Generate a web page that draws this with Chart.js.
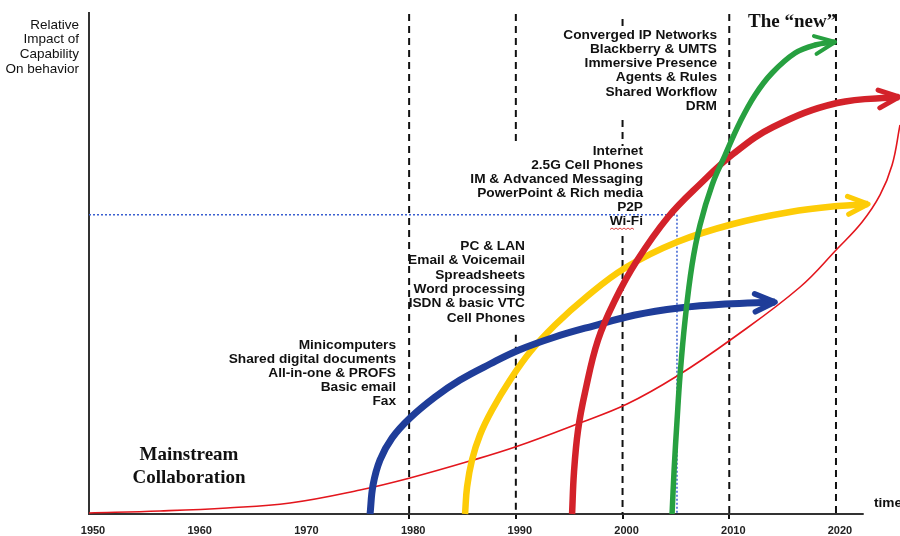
<!DOCTYPE html>
<html>
  <head>
    <meta charset="utf-8">
    <title>Collaboration waves</title>
    <script src="https://cdn.jsdelivr.net/npm/chart.js@4.4.1/dist/chart.umd.min.js"></script>
    <style>
      body { margin: 0; background: #fff; }
      #wrap { width: 900px; height: 536px; }
    </style>
  </head>
  <body>
    <div id="wrap"><canvas id="waves" width="900" height="536"></canvas></div>
    <script>
      // x = year, y = relative impact (0..100, top of plot = 100)
      const yearTicks = [1950, 1960, 1970, 1980, 1990, 2000, 2010, 2020];

      const mainstreamYears = [1950, 1956.65, 1962.93, 1968.84, 1975.4, 1980.08, 1985.71, 1990.21, 1995.74, 2000.42, 2005.11, 2010.36, 2016.64, 2020.1, 2022.45, 2024.13, 2025.26, 2026];
      const mainstreamImpact = [0.2, 0.6, 1.2, 2.19, 4.78, 7.17, 10.56, 13.55, 17.93, 21.91, 27.49, 35.06, 45.22, 52.79, 58.17, 63.55, 69.52, 77.49];

      const blueYears = [1976.34, 1976.62, 1977.27, 1978.4, 1980.08, 1982.43, 1984.77, 1987.58, 1990.3, 1993.67, 1997.24, 2001.17, 2005.3, 2009.61, 2014.29];
      const blueImpact = [0, 5.78, 10.76, 15.14, 19.12, 23.31, 26.69, 29.88, 32.67, 35.26, 37.45, 39.64, 41.04, 41.83, 42.23];

      const yellowYears = [1985.24, 1985.43, 1985.89, 1986.64, 1987.77, 1989.46, 1991.33, 1993.67, 1996.49, 2000.23, 2005.11, 2010.36, 2015.7, 2020.2, 2023.01];
      const yellowImpact = [0, 5.38, 10.76, 15.74, 20.72, 26.69, 32.27, 37.65, 43.03, 49.0, 54.18, 57.77, 60.16, 61.35, 61.75];

      const redYears = [1995.27, 1995.45, 1995.83, 1996.49, 1997.7, 1999.3, 2001.27, 2004.27, 2007.27, 2010.36, 2014.11, 2020.1, 2025.9];
      const redImpact = [0, 8.37, 16.73, 24.3, 34.66, 42.63, 50.2, 59.16, 65.74, 71.71, 77.09, 81.87, 83.07];

      const greenYears = [2004.64, 2004.83, 2005.11, 2005.39, 2005.86, 2006.51, 2007.26, 2008.39, 2009.61, 2011.01, 2012.42, 2014.01, 2016.17, 2018.04, 2019.92];
      const greenImpact = [0, 8.76, 18.73, 27.69, 38.65, 49.6, 57.57, 65.54, 71.51, 78.09, 83.47, 87.85, 91.83, 93.43, 94.02];

      // the dotted "Wi-Fi" marker
      const markerYears = [1950, 2005.1, 2005.1];
      const markerImpact = [59.6, 59.6, 0];

      // dashed decade lines: visible spans [top, bottom]
      const decadeLines = [1980, 1990, 2000, 2010, 2020];
      const decadeSpans = [
        [[99.6, 0]],
        [[99.6, 73.3], [35.7, 0]],
        [[98.6, 96.8], [78.5, 73.3], [55.4, 0]],
        [[99.6, 0]],
        [[99.6, 0]]
      ];

      const newWaveLabels = ['Converged IP Networks', 'Blackberry & UMTS', 'Immersive Presence', 'Agents & Rules', 'Shared Workflow', 'DRM'];
      const redWaveLabels = ['Internet', '2.5G Cell Phones', 'IM & Advanced Messaging', 'PowerPoint & Rich media', 'P2P', 'Wi-Fi'];
      const yellowWaveLabels = ['PC & LAN', 'Email & Voicemail', 'Spreadsheets', 'Word processing', 'ISDN & basic VTC', 'Cell Phones'];
      const blueWaveLabels = ['Minicomputers', 'Shared digital documents', 'All-in-one & PROFS', 'Basic email', 'Fax'];
      const yTitle = ['Relative', 'Impact of', 'Capability', 'On behavior'];

      function zip(xs, ys) {
        return xs.map((x, i) => ({ x: x, y: ys[i] }));
      }

      const decadePoints = [];
      decadeLines.forEach((year, i) => {
        decadeSpans[i].forEach(span => {
          decadePoints.push({ x: year, y: span[0] }, { x: year, y: span[1] }, { x: year, y: null });
        });
      });

      function wave(label, xs, ys, color, width, order, arrow) {
        return {
          label: label,
          data: zip(xs, ys),
          borderColor: color,
          borderWidth: width,
          tension: 0.4,
          pointRadius: 0,
          fill: false,
          order: order,
          arrow: arrow,
          borderCapStyle: 'butt'
        };
      }

      // open chevron at the end of a curve
      const arrowHeads = {
        id: 'arrowHeads',
        afterDatasetsDraw(chart) {
          const ctx = chart.ctx;
          chart.data.datasets.forEach((ds, i) => {
            if (!ds.arrow) return;
            const pts = chart.getDatasetMeta(i).data;
            const tip = pts[pts.length - 1];
            const prev = pts[pts.length - 2];
            const a = Math.atan2(tip.y - prev.y, tip.x - prev.x);
            const len = 22, spread = 0.42;
            ctx.save();
            ctx.strokeStyle = ds.borderColor;
            ctx.lineWidth = ds.borderWidth - 1.5;
            ctx.lineCap = 'round';
            ctx.lineJoin = 'round';
            ctx.beginPath();
            ctx.moveTo(tip.x - len * Math.cos(a - spread), tip.y - len * Math.sin(a - spread));
            ctx.lineTo(tip.x, tip.y);
            ctx.lineTo(tip.x - len * Math.cos(a + spread), tip.y - len * Math.sin(a + spread));
            ctx.stroke();
            ctx.restore();
          });
        }
      };

      function drawBlock(ctx, lines, x, y, step) {
        lines.forEach((t, i) => ctx.fillText(t, x, y + i * step));
      }

      const notes = {
        id: 'notes',
        beforeDatasetsDraw(chart) {
          // axis lines
          const ctx = chart.ctx;
          const area = chart.chartArea;
          const xEnd = chart.scales.x.getPixelForValue(2022.6);
          ctx.save();
          ctx.strokeStyle = '#333';
          ctx.lineWidth = 2;
          ctx.beginPath();
          ctx.moveTo(area.left, 12);
          ctx.lineTo(area.left, area.bottom);
          ctx.lineTo(xEnd, area.bottom);
          ctx.stroke();
          ctx.restore();
        },
        afterDraw(chart) {
          const ctx = chart.ctx;
          ctx.save();
          ctx.fillStyle = '#111';
          ctx.textBaseline = 'middle';

          ctx.textAlign = 'right';
          ctx.font = '13.5px "Liberation Sans", Arial, sans-serif';
          drawBlock(ctx, yTitle, 79, 25, 14.7);

          ctx.font = 'bold 13.7px "Liberation Sans", Arial, sans-serif';
          drawBlock(ctx, newWaveLabels, 717, 35, 14.2);
          drawBlock(ctx, redWaveLabels, 643, 151, 14);
          drawBlock(ctx, yellowWaveLabels, 525, 246, 14.4);
          drawBlock(ctx, blueWaveLabels, 396, 345, 14);

          ctx.textAlign = 'left';
          ctx.fillText('time', 874, 503);

          // spell-check squiggle under Wi-Fi
          ctx.strokeStyle = '#e04040';
          ctx.lineWidth = 1;
          ctx.beginPath();
          for (let x = 610; x <= 634; x += 2) {
            const y = 228 + ((x / 2) % 2 === 0 ? 0 : 1.5);
            if (x === 610) ctx.moveTo(x, y); else ctx.lineTo(x, y);
          }
          ctx.stroke();

          ctx.font = 'bold 19px "Liberation Serif", "Times New Roman", serif';
          ctx.fillText('The \u201cnew\u201d', 748, 22);
          ctx.textAlign = 'center';
          ctx.fillText('Mainstream', 189, 455);
          ctx.fillText('Collaboration', 189, 478);
          ctx.restore();
        }
      };

      new Chart(document.getElementById('waves'), {
        type: 'line',
        data: {
          datasets: [
            {
              label: 'decades',
              data: decadePoints,
              borderColor: '#111',
              borderWidth: 2,
              borderDash: [7, 5],
              pointRadius: 0,
              spanGaps: false,
              order: 10,
              tension: 0
            },
            {
              label: 'Wi-Fi marker',
              data: zip(markerYears, markerImpact),
              borderColor: '#3a5fd0',
              borderWidth: 1.5,
              borderDash: [2, 2],
              pointRadius: 0,
              order: 9,
              tension: 0
            },
            wave('Mainstream Collaboration', mainstreamYears, mainstreamImpact, '#e3161d', 1.6, 8, false),
            wave('PC wave', yellowYears, yellowImpact, '#fdcc07', 6.5, 6, true),
            wave('Minicomputer wave', blueYears, blueImpact, '#1f3d99', 7, 5, true),
            wave('Internet wave', redYears, redImpact, '#d3222a', 6.5, 4, true),
            wave('The new wave', greenYears, greenImpact, '#27a040', 5.5, 3, true)
          ]
        },
        options: {
          responsive: false,
          animation: false,
          clip: false,
          layout: { padding: { top: 12, left: 89, right: 0, bottom: -6 } },
          plugins: {
            legend: { display: false },
            tooltip: { enabled: false }
          },
          scales: {
            x: {
              type: 'linear',
              min: 1950,
              max: 2026,
              afterBuildTicks: axis => { axis.ticks = yearTicks.map(v => ({ value: v })); },
              border: { display: false },
              grid: {
                drawOnChartArea: false,
                tickLength: 5,
                lineWidth: 2,
                color: ctx => (ctx.tick && ctx.tick.value >= 1980 && ctx.tick.value <= 2010) ? '#111' : 'rgba(0,0,0,0)'
              },
              ticks: {
                padding: 6,
                labelOffset: 4,
                maxRotation: 0,
                color: '#222',
                font: { family: '"Liberation Sans", Arial, sans-serif', size: 11, weight: 'bold', lineHeight: 1 },
                callback: v => String(v)
              }
            },
            y: {
              display: false,
              min: 0,
              max: 100
            }
          }
        },
        plugins: [arrowHeads, notes]
      });
    </script>
  </body>
</html>
